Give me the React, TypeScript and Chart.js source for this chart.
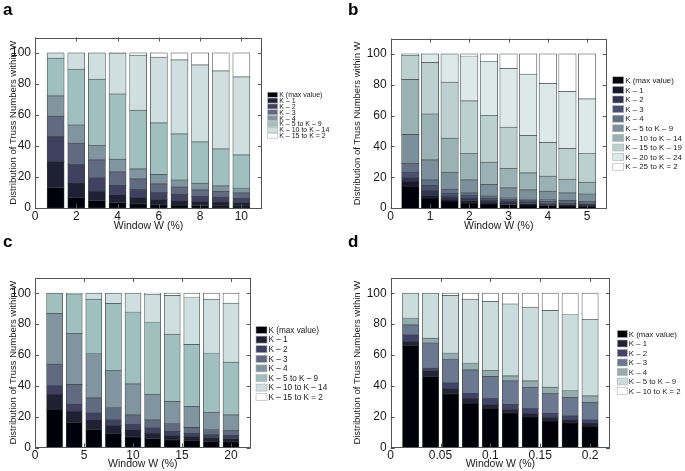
import React, { useEffect, useRef } from 'react';
import { Chart, registerables } from 'chart.js';

Chart.register(...registerables);

const FONT = '"Liberation Sans", Arial, Helvetica, sans-serif';
const Y_TITLE = 'Distribution of Truss Numbers within W';
const X_TITLE = 'Window W (%)';

// ---------- Panel a ----------
const aWindows = [1, 2, 3, 4, 5, 6, 7, 8, 9, 10];
const aLabels = ['K (max value)', 'K – 1', 'K – 2', 'K – 3', 'K – 4', 'K – 5 to K – 9', 'K – 10 to K – 14', 'K – 15 to K = 2'];
const aK = [13.1, 6.7, 4.7, 3.4, 2.6, 1.9, 1.7, 1.5, 1.3, 1.3];
const aK1 = [16.9, 9.4, 6.1, 5.1, 4.1, 3.5, 3.0, 2.6, 2.6, 2.1];
const aK2 = [16.0, 11.8, 8.6, 6.0, 5.1, 4.5, 4.1, 3.4, 3.0, 2.9];
const aK3 = [13.2, 13.8, 11.6, 8.7, 6.9, 5.6, 4.7, 4.1, 3.6, 3.4];
const aK4 = [13.1, 11.8, 9.4, 8.3, 6.5, 6.0, 4.5, 4.4, 3.7, 3.1];
const aK5to9 = [24.3, 36.0, 42.6, 42.0, 37.8, 33.3, 29.7, 26.6, 23.9, 21.4];
const aK10to14 = [3.4, 10.5, 17.0, 26.0, 35.5, 42.4, 47.8, 49.7, 50.3, 50.3];
const aK15toEnd = [0, 0, 0, 0.5, 1.5, 2.8, 4.5, 7.7, 11.6, 15.5];
const aColors = ['#00000b', '#202035', '#404060', '#606a80', '#8095a0', '#a0bfbf', '#cfdfdf', '#ffffff'];

// ---------- Panel b ----------
const bWindows = [0.5, 1, 1.5, 2, 2.5, 3, 3.5, 4, 4.5, 5];
const bLabels = ['K (max value)', 'K – 1', 'K – 2', 'K – 3', 'K – 4', 'K – 5 to K – 9', 'K – 10 to K – 14', 'K – 15 to K – 19', 'K – 20 to K – 24', 'K – 25 to K = 2'];
const bK = [14.2, 6.5, 4.5, 3.3, 2.6, 2.2, 1.9, 1.6, 1.4, 1.2];
const bK1 = [3.2, 1.6, 1.2, 1.5, 1.2, 1.0, 0.9, 0.8, 0.7, 0.7];
const bK2 = [2.3, 3.2, 1.7, 1.6, 1.2, 1.1, 0.9, 0.9, 0.9, 0.8];
const bK3 = [3.5, 3.3, 2.2, 1.6, 1.4, 1.1, 1.1, 1.0, 0.9, 0.8];
const bK4 = [5.8, 3.6, 2.6, 1.8, 1.4, 1.1, 1.0, 1.0, 1.0, 0.8];
const bK5to9 = [18.8, 13.0, 11.0, 8.4, 7.4, 6.5, 5.9, 5.6, 4.9, 4.8];
const bK10to14 = [35.7, 29.8, 22.1, 17.3, 14.5, 12.6, 11.1, 9.8, 8.9, 7.6];
const bK15to19 = [15.7, 33.5, 36.3, 34.0, 30.3, 26.8, 24.2, 21.7, 19.8, 18.8];
const bK20to24 = [0.8, 5.5, 18.4, 29.1, 35.2, 38.2, 39.8, 38.5, 37.0, 35.3];
const bK25toEnd = [0, 0, 0, 1.4, 4.8, 9.4, 13.2, 19.1, 24.5, 29.2];
const bColors = ['#00000b', '#19192e', '#323251', '#4a5070', '#636f86', '#7c909c', '#9bb2b5', '#bcd0d0', '#dde8e8', '#ffffff'];

// ---------- Panel c ----------
const cWindows = [2, 4, 6, 8, 10, 12, 14, 16, 18, 20];
const cLabels = ['K (max value)', 'K – 1', 'K – 2', 'K – 3', 'K – 4', 'K – 5 to K – 9', 'K – 10 to K – 14', 'K – 15 to K = 2'];
const cK = [24.8, 16.2, 11.6, 9.0, 6.8, 5.6, 4.9, 4.5, 3.9, 3.5];
const cK1 = [9.7, 7.3, 6.3, 5.2, 4.6, 3.6, 2.8, 2.6, 2.2, 2.1];
const cK2 = [5.5, 4.6, 4.4, 3.7, 3.6, 3.4, 2.6, 2.1, 2.1, 2.2];
const cK3 = [14.0, 12.8, 9.8, 7.8, 6.1, 5.2, 5.0, 3.7, 3.2, 3.0];
const cK4 = [32.7, 32.8, 28.6, 24.0, 20.1, 16.7, 14.4, 13.5, 11.4, 10.3];
const cK5to9 = [13.3, 25.8, 35.5, 43.5, 46.6, 46.8, 43.8, 40.4, 38.4, 34.2];
const cK10to14 = [0, 0.5, 3.8, 6.8, 11.9, 18.1, 25.1, 30.7, 35.0, 38.3];
const cK15toEnd = [0, 0, 0, 0, 0.3, 0.6, 1.4, 2.5, 3.8, 6.4];
const cColors = ['#00000b', '#202035', '#404060', '#606a80', '#8095a0', '#a0bfbf', '#cfdfdf', '#ffffff'];

// ---------- Panel d ----------
const dWindows = [0.02, 0.04, 0.06, 0.08, 0.1, 0.12, 0.14, 0.16, 0.18, 0.2];
const dLabels = ['K (max value)', 'K – 1', 'K – 2', 'K – 3', 'K – 4', 'K – 5 to K – 9', 'K – 10 to K = 2'];
const dK = [65.9, 46.0, 34.7, 28.6, 25.5, 22.4, 19.7, 17.1, 15.8, 13.8];
const dK1 = [2.8, 3.7, 3.5, 3.3, 2.4, 2.2, 2.3, 2.4, 2.2, 2.0];
const dK2 = [4.3, 1.7, 3.6, 3.1, 3.7, 3.3, 3.2, 2.5, 2.4, 2.0];
const dK3 = [6.5, 16.3, 15.5, 15.3, 14.4, 15.2, 13.9, 12.8, 11.9, 11.5];
const dK4 = [4.4, 3.2, 3.9, 4.4, 3.7, 3.3, 4.0, 4.3, 4.4, 4.1];
const dK5to9 = [16.1, 29.1, 37.4, 41.5, 44.8, 46.6, 47.9, 49.7, 49.3, 49.4];
const dK10toEnd = [0, 0, 1.4, 3.8, 5.5, 7.0, 9.0, 11.2, 14.0, 17.2];
const dColors = ['#000008', '#232336', '#42426a', '#6a7890', '#94acb0', '#cbdcdc', '#ffffff'];

const yTicks = [0, 20, 40, 60, 80, 100];

const framePlugin = {
  id: 'frame',
  afterDatasetsDraw(chart: any) {
    const { ctx, chartArea } = chart;
    const { left, right, top, bottom } = chartArea;
    const xs = chart.scales.x;
    const ys = chart.scales.y;
    ctx.save();
    ctx.strokeStyle = '#555';
    ctx.lineWidth = 1;
    ctx.strokeRect(Math.round(left) + 0.5, Math.round(top) + 0.5, Math.round(right - left) - 1, Math.round(bottom - top) - 1);
    ctx.beginPath();
    xs.ticks.forEach((t: any) => {
      const px = Math.round(xs.getPixelForValue(t.value)) + 0.5;
      ctx.moveTo(px, bottom);
      ctx.lineTo(px, bottom - 4);
      ctx.moveTo(px, top);
      ctx.lineTo(px, top + 4);
    });
    ys.ticks.forEach((t: any) => {
      const py = Math.round(ys.getPixelForValue(t.value)) + 0.5;
      ctx.moveTo(left, py);
      ctx.lineTo(left + 4, py);
      ctx.moveTo(right, py);
      ctx.lineTo(right - 4, py);
    });
    ctx.stroke();
    ctx.restore();
  },
};

const legendPlugin = {
  id: 'sideLegend',
  afterDraw(chart: any, _args: any, o: any) {
    const { ctx } = chart;
    ctx.save();
    ctx.font = `${o.size}px ${FONT}`;
    ctx.textBaseline = 'middle';
    ctx.textAlign = 'left';
    chart.data.datasets.forEach((ds: any, i: number) => {
      const y = o.y + i * o.gap;
      ctx.fillStyle = ds.backgroundColor;
      ctx.fillRect(o.x, y - o.bh / 2, o.bw, o.bh);
      ctx.strokeStyle = '#b0b0b0';
      ctx.lineWidth = 0.6;
      ctx.strokeRect(o.x, y - o.bh / 2, o.bw, o.bh);
      ctx.fillStyle = '#1a1a1a';
      ctx.fillText(ds.label, o.x + o.bw + 1.5, y + 0.5);
    });
    ctx.restore();
  },
};

type PanelCfg = {
  left: number; top: number; w: number; h: number;
  area: { left: number; top: number; right: number; bottom: number };
  xH: number; yTitlePad: number;
  xMax: number; xStep: number; barPct: number;
  windows: number[]; labels: string[]; series: number[][]; colors: string[];
  legend: { x: number; y: number; gap: number; bw: number; bh: number; size: number };
};

const fmt = (v: number) => String(Math.round(v * 1000) / 1000);

function Panel({ cfg }: { cfg: PanelCfg }) {
  const ref = useRef<HTMLCanvasElement>(null);
  useEffect(() => {
    if (!ref.current) return;
    const datasets = cfg.series.map((vals, i) => ({
      label: cfg.labels[i],
      data: cfg.windows.map((x, j) => ({ x, y: vals[j] })),
      backgroundColor: cfg.colors[i],
      borderColor: '#3e4646',
      borderWidth: 0.7,
      borderSkipped: false,
      inflateAmount: 0.5,
      barPercentage: cfg.barPct,
      categoryPercentage: 1,
      stack: 's',
    }));
    const chart = new Chart(ref.current, {
      type: 'bar',
      data: { datasets } as any,
      plugins: [framePlugin, legendPlugin],
      options: {
        animation: false,
        responsive: false,
        layout: {
          padding: {
            left: 0,
            top: cfg.area.top,
            right: cfg.w - cfg.area.right,
            bottom: cfg.h - cfg.area.bottom - cfg.xH,
          },
        },
        plugins: {
          legend: { display: false },
          tooltip: { enabled: false },
          sideLegend: cfg.legend,
        } as any,
        scales: {
          x: {
            type: 'linear',
            min: 0,
            max: cfg.xMax,
            offset: false,
            stacked: true,
            grid: { display: false, drawTicks: false },
            border: { display: false },
            ticks: {
              stepSize: cfg.xStep,
              includeBounds: false,
              autoSkip: false,
              maxRotation: 0,
              padding: 1,
              color: '#1a1a1a',
              font: { family: FONT, size: 12 },
              callback: (v: any) => fmt(Number(v)),
            },
            title: { display: true, text: X_TITLE, color: '#1a1a1a', font: { family: FONT, size: 10.5 }, padding: 0 },
            afterFit: (s: any) => { s.height = cfg.xH; },
          },
          y: {
            type: 'linear',
            min: 0,
            max: 110,
            stacked: true,
            grid: { display: false, drawTicks: false },
            border: { display: false },
            afterBuildTicks: (s: any) => { s.ticks = yTicks.map((value) => ({ value })); },
            ticks: {
              padding: 4,
              color: '#1a1a1a',
              font: { family: FONT, size: 12 },
            },
            title: { display: true, text: Y_TITLE, color: '#1a1a1a', font: { family: FONT, size: 9.5 }, padding: { top: cfg.yTitlePad, bottom: 0 } },
            afterFit: (s: any) => { s.width = cfg.area.left; },
          },
        } as any,
      },
    });
    return () => chart.destroy();
  }, []);
  return (
    <canvas
      ref={ref}
      width={cfg.w}
      height={cfg.h}
      style={{ position: 'absolute', left: cfg.left, top: cfg.top, width: cfg.w, height: cfg.h }}
    />
  );
}

const panels: PanelCfg[] = [
  {
    left: 0, top: 0, w: 345, h: 235,
    area: { left: 35, top: 37.5, right: 262, bottom: 208 },
    xH: 24, yTitlePad: 8, xMax: 11, xStep: 2, barPct: 0.81,
    windows: aWindows, labels: aLabels, colors: aColors,
    series: [aK, aK1, aK2, aK3, aK4, aK5to9, aK10to14, aK15toEnd],
    legend: { x: 267.7, y: 94.7, gap: 5.86, bw: 10, bh: 5, size: 7 },
  },
  {
    left: 345, top: 0, w: 340, h: 235,
    area: { left: 45.7, top: 38.6, right: 261.7, bottom: 208.1 },
    xH: 24, yTitlePad: 7, xMax: 5.5, xStep: 1, barPct: 0.87,
    windows: bWindows, labels: bLabels, colors: bColors,
    series: [bK, bK1, bK2, bK3, bK4, bK5to9, bK10to14, bK15to19, bK20to24, bK25toEnd],
    legend: { x: 267.7, y: 80.3, gap: 9.6, bw: 11, bh: 7, size: 7.9 },
  },
  {
    left: 0, top: 235, w: 345, h: 236,
    area: { left: 35, top: 42.9, right: 250.6, bottom: 212.5 },
    xH: 22.5, yTitlePad: 8, xMax: 22, xStep: 5, barPct: 0.8,
    windows: cWindows, labels: cLabels, colors: cColors,
    series: [cK, cK1, cK2, cK3, cK4, cK5to9, cK10to14, cK15toEnd],
    legend: { x: 256, y: 95, gap: 9.6, bw: 11, bh: 7, size: 8.2 },
  },
  {
    left: 345, top: 235, w: 340, h: 236,
    area: { left: 45.7, top: 42.9, right: 265, bottom: 212.5 },
    xH: 22.5, yTitlePad: 7, xMax: 0.22, xStep: 0.05, barPct: 0.8,
    windows: dWindows, labels: dLabels, colors: dColors,
    series: [dK, dK1, dK2, dK3, dK4, dK5to9, dK10toEnd],
    legend: { x: 272.3, y: 99, gap: 9.5, bw: 10, bh: 7, size: 7.8 },
  },
];

const letters = [
  { t: 'a', left: 3, top: 1 },
  { t: 'b', left: 348, top: 1 },
  { t: 'c', left: 3, top: 233 },
  { t: 'd', left: 348, top: 233 },
];

export default function App() {
  return (
    <div style={{ position: 'absolute', left: 0, top: 0, width: 685, height: 471, background: '#fff', overflow: 'hidden' }}>
      {panels.map((p, i) => (
        <Panel key={i} cfg={p} />
      ))}
      {letters.map((l) => (
        <div
          key={l.t}
          style={{ position: 'absolute', left: l.left, top: l.top, font: `bold 17px ${FONT}`, lineHeight: '17px', color: '#000' }}
        >
          {l.t}
        </div>
      ))}
    </div>
  );
}
